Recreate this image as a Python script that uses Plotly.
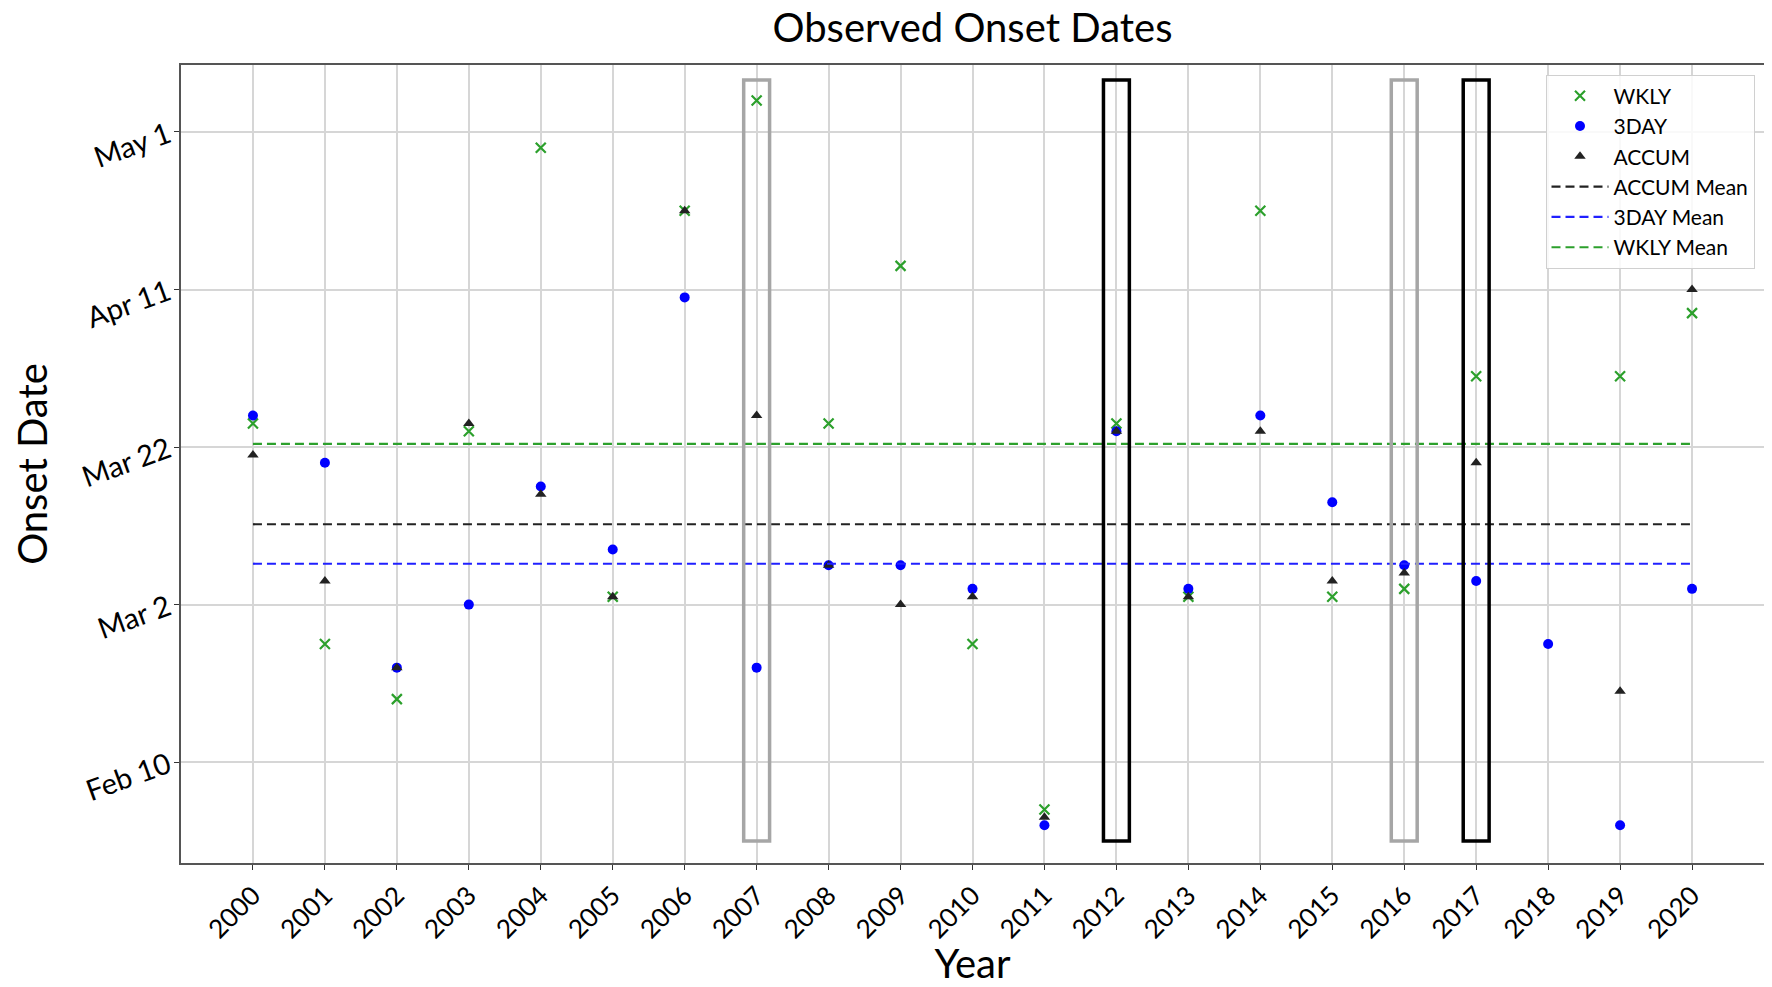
import numpy as np
import plotly.graph_objects as go

# onset dates as day of year (Feb 10 = 41, Mar 2 = 61, ...); None = no onset
years = list(range(2000, 2021))
wkly = [84, 56, 49, 83, 119, 62, 111, 125, 84, 104, 56, 35, 84, 62, 111, 62, 63, 90, None, 90, 98]
day3 = [85, 79, 53, 61, 76, 68, 100, 53, 66, 66, 63, 33, 83, 63, 85, 74, 66, 64, 56, 33, 63]
accum = [80, 64, 53, 84, 75, 62, 111, 85, 66, 61, 62, 34, 83, 62, 83, 64, 65, 79, None, 50, 101]

tick_days = [41, 61, 81, 101, 121]
tick_labels = ["Feb 10", "Mar 2", "Mar 22", "Apr 11", "May 1"]

gray_years = [2007, 2016]
black_years = [2012, 2017]

FONT = "Lato"
W, H = 1772, 979  # page body adds an 8px offset, keep the figure inside the window


def mean_of(vals):
    return float(np.nanmean(np.array(vals, dtype=float)))


fig = go.Figure()

# scatter points
fig.add_trace(go.Scatter(x=years, y=wkly, mode="markers", name="WKLY",
                         marker=dict(symbol="x-thin", size=10, color="#2ca02c",
                                     line=dict(width=2.2, color="#2ca02c"))))
fig.add_trace(go.Scatter(x=years, y=day3, mode="markers", name="3DAY",
                         marker=dict(symbol="circle", size=10, color="#0000ff")))
fig.add_trace(go.Scatter(x=years, y=accum, mode="markers", name="ACCUM",
                         marker=dict(symbol="triangle-up", size=10, color="#222222")))

# mean lines
for label, vals, col in [("ACCUM Mean", accum, "#222222"),
                         ("3DAY Mean", day3, "#2020ff"),
                         ("WKLY Mean", wkly, "#2ca02c")]:
    m = mean_of(vals)
    fig.add_trace(go.Scatter(x=[years[0], years[-1]], y=[m, m], mode="lines", name=label,
                             line=dict(color=col, width=2.2, dash="9px,5px")))

# highlight boxes
shapes = []
for yr in gray_years:
    shapes.append(dict(type="rect", xref="x", yref="y", x0=yr - 0.18, x1=yr + 0.18,
                       y0=31, y1=127.6, line=dict(color="#a6a6a6", width=3.5)))
for yr in black_years:
    shapes.append(dict(type="rect", xref="x", yref="y", x0=yr - 0.18, x1=yr + 0.18,
                       y0=31, y1=127.6, line=dict(color="black", width=3.5)))

fig.update_layout(
    width=W, height=H,
    paper_bgcolor="white", plot_bgcolor="white",
    margin=dict(l=173, r=16, t=57, b=124),
    font=dict(family=FONT, color="black"),
    title=dict(text="Observed Onset Dates", xref="paper", x=0.5, xanchor="center",
               yref="container", y=1 - 6 / H, yanchor="top",
               font=dict(size=40, family=FONT)),
    shapes=shapes,
    legend=dict(x=0.994, xanchor="right", y=0.988, yanchor="top", itemwidth=57,
                bgcolor="rgba(255,255,255,0.85)", bordercolor="#d0d0d0", borderwidth=1,
                font=dict(size=21, family=FONT)),
    showlegend=True,
)

fig.update_xaxes(
    range=[1999, 2021], tickmode="array", tickvals=years, ticktext=[str(y) for y in years],
    tickangle=-45, tickfont=dict(size=26), ticks="outside", ticklen=5, tickcolor="#333",
    showgrid=True, gridcolor="#d6d6d6", gridwidth=1.5, automargin=False,
    showline=True, linecolor="#555", linewidth=2, mirror=True, zeroline=False,
    title=dict(text="Year", font=dict(size=40), standoff=3),
)
fig.update_yaxes(
    range=[28.2, 129.5], tickmode="array", tickvals=tick_days, ticktext=tick_labels,
    tickangle=-20, tickfont=dict(size=29), ticks="outside", ticklen=5, tickcolor="#333",
    showgrid=True, gridcolor="#d6d6d6", gridwidth=1.5, automargin=False,
    showline=True, linecolor="#555", linewidth=2, mirror=True, zeroline=False,
    title=dict(text="Onset Date", font=dict(size=40), standoff=26),
)

fig.write_html("out.html")
